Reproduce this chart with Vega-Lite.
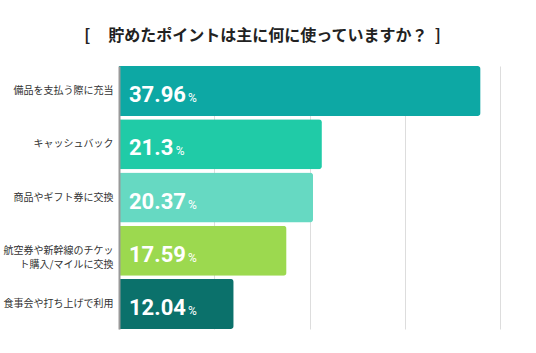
{
  "$schema": "https://vega.github.io/schema/vega-lite/v6.json",
  "width": 381,
  "height": 263,
  "autosize": {"type": "none"},
  "padding": {"left": 119, "top": 66, "right": 36, "bottom": 24},
  "background": "white",
  "title": {
    "text": "[\u00a0\u00a0\u00a0\u00a0\u00a0貯めたポイントは主に何に使っていますか？\u00a0\u00a0]",
    "font": "Noto Sans CJK JP",
    "fontSize": 16,
    "fontWeight": "bold",
    "color": "#222222",
    "anchor": "middle",
    "dx": -47,
    "offset": 22,
    "dy": 16,
    "baseline": "bottom"
  },
  "config": {"view": {"stroke": null}},
  "data": {
    "values": [
      {"item": "備品を支払う際に充当", "value": 37.96},
      {"item": "キャッシュバック", "value": 21.3},
      {"item": "商品やギフト券に交換", "value": 20.37},
      {"item": "航空券や新幹線のチケット購入/マイルに交換", "value": 17.59},
      {"item": "食事会や打ち上げで利用", "value": 12.04}
    ]
  },
  "encoding": {
    "y": {
      "field": "item",
      "type": "nominal",
      "sort": null,
      "scale": {"paddingInner": 0.06, "paddingOuter": 0},
      "axis": {
        "title": null,
        "domainColor": "#999999",
        "domainWidth": 2,
        "ticks": false,
        "labelPadding": 6,
        "labelFont": "Noto Sans CJK JP",
        "labelFontSize": 10,
        "labelColor": "#333333",
        "labelLineHeight": 14,
        "labelLimit": 0,
        "zindex": 1,
        "labelExpr": "datum.value == '航空券や新幹線のチケット購入/マイルに交換' ? ['航空券や新幹線のチケッ', 'ト購入/マイルに交換'] : datum.value"
      }
    }
  },
  "layer": [
    {
      "mark": {"type": "bar", "cornerRadiusEnd": 3},
      "encoding": {
        "x": {
          "field": "value",
          "type": "quantitative",
          "scale": {"domain": [0, 40], "nice": false},
          "axis": {
            "title": null,
            "labels": false,
            "ticks": false,
            "domain": false,
            "grid": true,
            "gridColor": "#dddddd",
            "gridWidth": 1,
            "values": [0, 10, 20, 30, 40]
          }
        },
        "color": {
          "field": "item",
          "type": "nominal",
          "sort": null,
          "legend": null,
          "scale": {
            "domain": ["備品を支払う際に充当", "キャッシュバック", "商品やギフト券に交換", "航空券や新幹線のチケット購入/マイルに交換", "食事会や打ち上げで利用"],
            "range": ["#0da8a4", "#20cba7", "#66d9c2", "#9cd94f", "#0b716b"]
          }
        }
      }
    },
    {
      "mark": {"type": "text", "align": "left", "baseline": "alphabetic", "dx": 10, "dy": 11, "font": "Roboto", "fontSize": 22, "fontWeight": "bold", "color": "white"},
      "encoding": {
        "x": {"datum": 0, "type": "quantitative"},
        "text": {"field": "value", "type": "quantitative"}
      }
    },
    {
      "mark": {"type": "text", "align": "left", "baseline": "alphabetic", "dx": {"expr": "10 + (length(toString(datum.value)) - 1) * 12.35 + 5.6 + 4"}, "dy": 11, "font": "Roboto", "fontSize": 12, "color": "white", "text": "%"},
      "encoding": {
        "x": {"datum": 0, "type": "quantitative"}
      }
    }
  ]
}
